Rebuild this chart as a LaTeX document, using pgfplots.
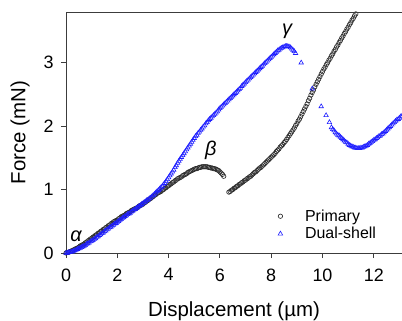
\documentclass[border=0pt]{standalone}
\usepackage{pgfplots}
\pgfplotsset{compat=1.18}
\usepackage{fontspec}
\setmainfont{Liberation Sans}
\definecolor{axgray}{RGB}{60,60,60}
\definecolor{ptgray}{RGB}{45,45,45}
\definecolor{dsblue}{RGB}{30,30,255}
\begin{document}
\begin{tikzpicture}
\path[use as bounding box] (0,0) rectangle (402bp,321bp);
\begin{axis}[
  name=ax,
  at={(66bp,68bp)}, anchor=south west,
  scale only axis, width=336bp, height=241bp,
  xmin=0, xmax=13.1, ymin=0, ymax=3.8,
  axis x line*=bottom, axis y line*=left,
  axis line style={-, axgray, line width=0.8bp},
  tick align=outside, major tick length=5bp,
  tick style={axgray, line width=0.8bp},
  xtick={0,2,4,6,8,10,12}, ytick={0,1,2,3},
  /pgf/number format/assume math mode=true,
  ticklabel style={font=\fontsize{18}{18}\selectfont, text=black},
  xticklabel shift=7bp, yticklabel shift=4bp,
  xlabel={Displacement (µm)}, ylabel={Force (mN)},
  label style={font=\fontsize{20.5}{20.5}\selectfont},
  xlabel shift=14bp, ylabel shift=7bp,
  legend image code/.code={\path[draw=none,fill=none] (0cm,0cm) -- (0.8cm,0cm);
    \draw[mark repeat=1,#1] plot coordinates {(0cm,0cm)};},
  legend style={draw=none, fill=none, at={(0.622,0.197)}, anchor=north west,
    font=\fontsize{16}{18}\selectfont, row sep=0.5bp},
  legend cell align=left,
  clip=true,
]
\addplot[only marks, mark=o, mark size=2.2bp, draw=ptgray, mark options={line width=0.65bp}] table[row sep=\\] {
x y\\
0.00 0.00\\ 0.05 0.01\\ 0.10 0.01\\ 0.15 0.02\\ 0.20 0.03\\ 0.25 0.04\\ 0.30 0.05\\ 0.35 0.06\\ 0.40 0.07\\ 0.45 0.08\\
0.50 0.09\\ 0.55 0.11\\ 0.60 0.12\\ 0.65 0.13\\ 0.70 0.14\\ 0.75 0.16\\ 0.80 0.17\\ 0.85 0.19\\ 0.90 0.20\\ 0.95 0.22\\
1.00 0.23\\ 1.05 0.25\\ 1.10 0.26\\ 1.15 0.28\\ 1.20 0.29\\ 1.25 0.31\\ 1.30 0.32\\ 1.35 0.34\\ 1.40 0.35\\ 1.45 0.37\\
1.50 0.38\\ 1.55 0.40\\ 1.60 0.41\\ 1.65 0.43\\ 1.70 0.44\\ 1.75 0.46\\ 1.80 0.47\\ 1.85 0.49\\ 1.90 0.50\\ 1.95 0.51\\
2.00 0.52\\ 2.05 0.54\\ 2.10 0.55\\ 2.15 0.57\\ 2.20 0.58\\ 2.25 0.59\\ 2.30 0.60\\ 2.35 0.62\\ 2.40 0.63\\ 2.45 0.64\\
2.50 0.65\\ 2.55 0.67\\ 2.60 0.68\\ 2.65 0.69\\ 2.70 0.70\\ 2.75 0.71\\ 2.80 0.72\\ 2.85 0.74\\ 2.90 0.75\\ 2.95 0.76\\
3.00 0.77\\ 3.05 0.79\\ 3.10 0.80\\ 3.15 0.82\\ 3.20 0.83\\ 3.25 0.85\\ 3.30 0.86\\ 3.35 0.88\\ 3.40 0.89\\ 3.45 0.91\\
3.50 0.92\\ 3.55 0.94\\ 3.60 0.95\\ 3.65 0.96\\ 3.70 0.97\\ 3.75 0.99\\ 3.80 1.00\\ 3.85 1.02\\ 3.90 1.03\\ 3.95 1.05\\
4.00 1.06\\ 4.05 1.08\\ 4.10 1.09\\ 4.15 1.11\\ 4.20 1.12\\ 4.25 1.14\\ 4.30 1.15\\ 4.35 1.17\\ 4.40 1.18\\ 4.45 1.19\\
4.50 1.20\\ 4.55 1.22\\ 4.60 1.23\\ 4.65 1.24\\ 4.70 1.25\\ 4.75 1.27\\ 4.80 1.28\\ 4.85 1.29\\ 4.90 1.30\\ 4.95 1.31\\
5.00 1.32\\ 5.05 1.33\\ 5.10 1.33\\ 5.15 1.34\\ 5.20 1.35\\ 5.25 1.35\\ 5.30 1.36\\ 5.35 1.36\\ 5.40 1.36\\ 5.45 1.36\\
5.50 1.36\\ 5.55 1.35\\ 5.60 1.35\\ 5.65 1.34\\ 5.70 1.34\\ 5.75 1.33\\ 5.80 1.33\\ 5.85 1.32\\ 5.90 1.31\\ 5.95 1.30\\
6.00 1.28\\ 6.05 1.26\\ 6.10 1.24\\ 6.15 1.21\\
6.35 0.96\\ 6.40 0.97\\ 6.45 0.99\\ 6.50 1.00\\ 6.55 1.02\\ 6.60 1.03\\ 6.65 1.05\\ 6.70 1.06\\ 6.75 1.08\\ 6.80 1.09\\
6.85 1.11\\ 6.90 1.12\\ 6.95 1.14\\ 7.00 1.15\\ 7.05 1.17\\ 7.10 1.18\\ 7.15 1.20\\ 7.20 1.21\\ 7.25 1.23\\ 7.30 1.25\\
7.35 1.27\\ 7.40 1.28\\ 7.45 1.30\\ 7.50 1.32\\ 7.55 1.34\\ 7.60 1.35\\ 7.65 1.37\\ 7.70 1.39\\ 7.75 1.41\\ 7.80 1.43\\
7.85 1.45\\ 7.90 1.47\\ 7.95 1.49\\ 8.00 1.51\\ 8.05 1.53\\ 8.10 1.55\\ 8.15 1.57\\ 8.20 1.60\\ 8.25 1.62\\ 8.30 1.64\\
8.35 1.67\\ 8.40 1.69\\ 8.45 1.71\\ 8.50 1.74\\ 8.55 1.76\\ 8.60 1.79\\ 8.65 1.82\\ 8.70 1.85\\ 8.75 1.88\\ 8.80 1.91\\
8.85 1.94\\ 8.90 1.97\\ 8.95 2.01\\ 9.00 2.04\\ 9.05 2.08\\ 9.10 2.11\\ 9.15 2.15\\ 9.20 2.19\\ 9.25 2.23\\ 9.30 2.27\\
9.35 2.31\\ 9.40 2.35\\ 9.45 2.40\\ 9.50 2.44\\ 9.55 2.49\\ 9.60 2.53\\ 9.65 2.57\\ 9.70 2.62\\ 9.75 2.66\\ 9.80 2.70\\
9.85 2.74\\ 9.90 2.78\\ 9.95 2.82\\ 10.00 2.86\\ 10.05 2.90\\ 10.10 2.93\\ 10.15 2.97\\ 10.20 3.00\\ 10.25 3.04\\ 10.30 3.07\\
10.35 3.11\\ 10.40 3.14\\ 10.45 3.18\\ 10.50 3.21\\ 10.55 3.25\\ 10.60 3.28\\ 10.65 3.32\\ 10.70 3.35\\ 10.75 3.39\\ 10.80 3.42\\
10.85 3.46\\ 10.90 3.49\\ 10.95 3.53\\ 11.00 3.56\\ 11.05 3.60\\ 11.10 3.63\\ 11.15 3.67\\ 11.20 3.70\\ 11.25 3.74\\ 11.30 3.77\\
};
\addlegendentry{Primary}
\addplot[only marks, mark=triangle, mark size=2.6bp, draw=dsblue, mark options={line width=0.6bp}] table[row sep=\\] {
x y\\
0.00 0.00\\ 0.05 0.00\\ 0.10 0.01\\ 0.15 0.01\\ 0.20 0.02\\ 0.25 0.02\\ 0.30 0.03\\ 0.35 0.04\\ 0.40 0.05\\ 0.45 0.06\\
0.50 0.07\\ 0.55 0.08\\ 0.60 0.09\\ 0.65 0.10\\ 0.70 0.11\\ 0.75 0.12\\ 0.80 0.14\\ 0.85 0.15\\ 0.90 0.16\\ 0.95 0.18\\
1.00 0.19\\ 1.05 0.20\\ 1.10 0.22\\ 1.15 0.23\\ 1.20 0.25\\ 1.25 0.26\\ 1.30 0.28\\ 1.35 0.29\\ 1.40 0.31\\ 1.45 0.32\\
1.50 0.34\\ 1.55 0.35\\ 1.60 0.37\\ 1.65 0.38\\ 1.70 0.40\\ 1.75 0.41\\ 1.80 0.43\\ 1.85 0.44\\ 1.90 0.46\\ 1.95 0.47\\
2.00 0.49\\ 2.05 0.50\\ 2.10 0.52\\ 2.15 0.53\\ 2.20 0.55\\ 2.25 0.56\\ 2.30 0.58\\ 2.35 0.59\\ 2.40 0.61\\ 2.45 0.62\\
2.50 0.63\\ 2.55 0.65\\ 2.60 0.66\\ 2.65 0.68\\ 2.70 0.69\\ 2.75 0.71\\ 2.80 0.72\\ 2.85 0.74\\ 2.90 0.75\\ 2.95 0.77\\
3.00 0.78\\ 3.05 0.80\\ 3.10 0.81\\ 3.15 0.83\\ 3.20 0.84\\ 3.25 0.86\\ 3.30 0.87\\ 3.35 0.89\\ 3.40 0.91\\ 3.45 0.93\\
3.50 0.95\\ 3.55 0.97\\ 3.60 0.99\\ 3.65 1.01\\ 3.70 1.03\\ 3.75 1.05\\ 3.80 1.08\\ 3.85 1.10\\ 3.90 1.13\\ 3.95 1.16\\
4.00 1.19\\ 4.05 1.22\\ 4.10 1.25\\ 4.15 1.28\\ 4.20 1.31\\ 4.25 1.35\\ 4.30 1.38\\ 4.35 1.42\\ 4.40 1.45\\ 4.45 1.48\\
4.50 1.51\\ 4.55 1.54\\ 4.60 1.57\\ 4.65 1.60\\ 4.70 1.63\\ 4.75 1.66\\ 4.80 1.69\\ 4.85 1.72\\ 4.90 1.75\\ 4.95 1.78\\
5.00 1.81\\ 5.05 1.84\\ 5.10 1.86\\ 5.15 1.89\\ 5.20 1.91\\ 5.25 1.94\\ 5.30 1.96\\ 5.35 1.99\\ 5.40 2.01\\ 5.45 2.04\\
5.50 2.06\\ 5.55 2.09\\ 5.60 2.11\\ 5.65 2.13\\ 5.70 2.15\\ 5.75 2.17\\ 5.80 2.19\\ 5.85 2.21\\ 5.90 2.23\\ 5.95 2.26\\
6.00 2.28\\ 6.05 2.30\\ 6.10 2.32\\ 6.15 2.34\\ 6.20 2.36\\ 6.25 2.38\\ 6.30 2.40\\ 6.35 2.42\\ 6.40 2.44\\ 6.45 2.46\\
6.50 2.48\\ 6.55 2.50\\ 6.60 2.52\\ 6.65 2.54\\ 6.70 2.56\\ 6.75 2.58\\ 6.80 2.60\\ 6.85 2.63\\ 6.90 2.65\\ 6.95 2.67\\
7.00 2.69\\ 7.05 2.71\\ 7.10 2.73\\ 7.15 2.75\\ 7.20 2.77\\ 7.25 2.79\\ 7.30 2.81\\ 7.35 2.83\\ 7.40 2.85\\ 7.45 2.87\\
7.50 2.89\\ 7.55 2.91\\ 7.60 2.93\\ 7.65 2.95\\ 7.70 2.97\\ 7.75 2.99\\ 7.80 3.01\\ 7.85 3.03\\ 7.90 3.05\\ 7.95 3.07\\
8.00 3.09\\ 8.05 3.11\\ 8.10 3.13\\ 8.15 3.15\\ 8.20 3.17\\ 8.25 3.19\\ 8.30 3.20\\ 8.35 3.22\\ 8.40 3.23\\ 8.45 3.24\\
8.50 3.25\\ 8.55 3.26\\ 8.60 3.26\\ 8.65 3.26\\ 8.70 3.25\\ 8.75 3.24\\ 8.80 3.22\\ 8.85 3.20\\ 8.90 3.18\\ 8.95 3.15\\
9.17 3.00\\ 9.60 2.59\\ 9.95 2.31\\ 10.14 2.17\\ 10.27 2.06\\ 10.35 1.98\\
10.40 1.95\\ 10.45 1.93\\ 10.50 1.90\\ 10.55 1.88\\ 10.60 1.86\\ 10.65 1.85\\ 10.70 1.83\\ 10.75 1.81\\ 10.80 1.79\\ 10.85 1.77\\
10.90 1.75\\ 10.95 1.74\\ 11.00 1.72\\ 11.05 1.70\\ 11.10 1.69\\ 11.15 1.68\\ 11.20 1.67\\ 11.25 1.66\\ 11.30 1.66\\ 11.35 1.65\\
11.40 1.65\\ 11.45 1.65\\ 11.50 1.66\\ 11.55 1.66\\ 11.60 1.67\\ 11.65 1.68\\ 11.70 1.69\\ 11.75 1.70\\ 11.80 1.72\\ 11.85 1.73\\
11.90 1.75\\ 11.95 1.76\\ 12.00 1.78\\ 12.05 1.79\\ 12.10 1.81\\ 12.15 1.82\\ 12.20 1.84\\ 12.25 1.85\\ 12.30 1.87\\ 12.35 1.88\\
12.40 1.90\\ 12.45 1.92\\ 12.50 1.94\\ 12.55 1.96\\ 12.60 1.98\\ 12.65 2.00\\ 12.70 2.02\\ 12.75 2.04\\ 12.80 2.06\\ 12.85 2.08\\
12.90 2.10\\ 12.95 2.11\\ 13.00 2.13\\ 13.05 2.15\\ 13.10 2.16\\
};
\addlegendentry{Dual-shell}
\node[font=\fontsize{20}{20}\selectfont\itshape] at (axis cs:0.39,0.27) {α};
\node[font=\fontsize{20}{20}\selectfont\itshape] at (axis cs:5.65,1.62) {β};
\node[font=\fontsize{20}{20}\selectfont\itshape] at (axis cs:8.62,3.5) {γ};
\end{axis}
\draw[axgray, line width=0.8bp] (ax.north west) -- (ax.north east);
\end{tikzpicture}
\end{document}
